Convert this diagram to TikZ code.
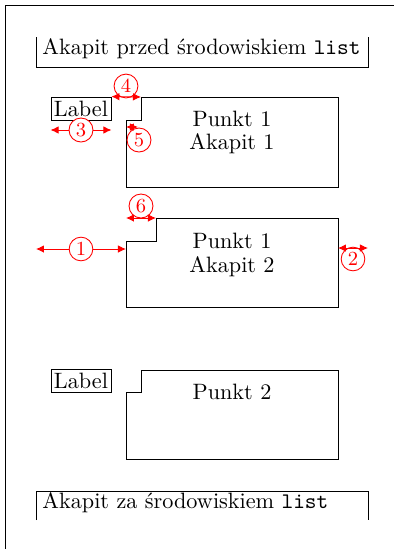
\documentclass[tikz,border=0pt]{standalone}
\usepackage{fontspec}
\usetikzlibrary{calc,arrows.meta}
\begin{document}
\begin{tikzpicture}[x=0.45pt,y=-0.45pt,>={Latex[length=3.6pt,width=3.4pt]},
    dim/.style={red,<->},
    num/.style={circle,draw=red,text=red,inner sep=1.1pt,font=\small},
    labelbox/.style={draw,minimum width=27pt,minimum height=10.35pt,inner sep=0pt},
    txt/.style={anchor=base,inner sep=0pt}]
\useasboundingbox (0,0) rectangle (394,549);
% strona
\draw (394,5.5) -- (5.5,5.5) -- (5.5,549);
% akapit przed lista
\coordinate (pl) at (36,249);
\coordinate (pr) at (368,248);
\draw (36,37) -- (36,67) -- (368,67) -- (368,37);
\node[anchor=base west,inner sep=0pt] (przed) at (42,54.5) {Akapit przed środowiskiem \texttt{list}};
% punkt 1
\coordinate (i1) at (141,97);
\coordinate (i1s) at (126,127);
\draw (i1) -- (338,97) -- (338,187) -- (126,187) -- (126,120) -- (141,120) -- cycle;
\node[labelbox] (lab1) at (81,108.5) {Label};
\node[txt] (p1) at (232,126) {Punkt 1};
\node[txt] (a1) at (232,149) {Akapit 1};
% punkt 1, akapit 2
\coordinate (j1) at (126,218);
\coordinate (j2) at (156,218);
\coordinate (jl) at (126,249);
\coordinate (jr) at (338,248);
\draw (j2) -- (338,218) -- (338,307) -- (126,307) -- (126,241) -- (156,241) -- cycle;
\node[txt] (p2) at (232,248) {Punkt 1};
\node[txt] (a2) at (232,272) {Akapit 2};
% punkt 2
\draw (141,370) -- (338,370) -- (338,459) -- (126,459) -- (126,392) -- (141,392) -- cycle;
\node[labelbox] (lab2) at (81,381) {Label};
\node[txt] (p3) at (232,399) {Punkt 2};
% akapit za lista
\draw (36,520) -- (36,491) -- (368,491) -- (368,520);
\node[anchor=base west,inner sep=0pt] (za) at (42,508) {Akapit za środowiskiem \texttt{list}};
% wymiary
\draw[dim] (pl) -- node[num,fill=white] (n1) {1} (jl);
\draw[dim] (jr) -- (pr);
\node[num] (n2) at (353,259) {2};
\draw[dim] ($(lab1.west)+(0,21.5)$) -- node[num,fill=white] (n3) {3} ($(lab1.east)+(0,21.5)$);
\draw[dim] (lab1.north east) -- (i1);
\node[num] (n4) at (126,86) {4};
\draw[dim] (i1s) -- ++(12,0);
\node[num] (n5) at (139,140) {5};
\draw[dim] (j1) -- (j2);
\node[num] (n6) at (141,206) {6};
\end{tikzpicture}
\end{document}
